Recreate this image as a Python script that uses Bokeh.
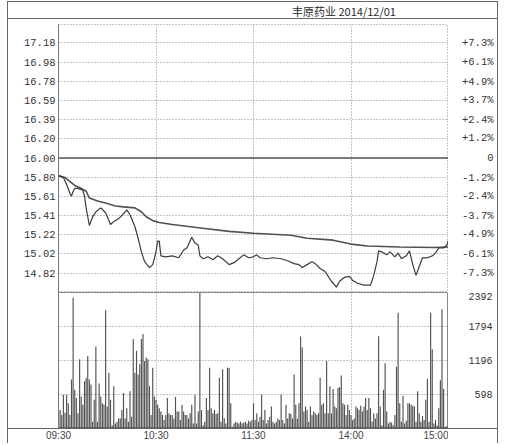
from bokeh.plotting import figure
from bokeh.layouts import column, row
from bokeh.models import Range1d, FixedTicker, Span, Label, Spacer
from bokeh.embed import file_html
from bokeh.resources import INLINE

title_text = "丰原药业 2014/12/01"
prev_close = 16.00
price_ticks = [17.18, 16.98, 16.78, 16.59, 16.39, 16.20, 16.00, 15.80, 15.61, 15.41, 15.22, 15.02, 14.82]
price_labels = ["17.18", "16.98", "16.78", "16.59", "16.39", "16.20", "16.00", "15.80", "15.61", "15.41", "15.22", "15.02", "14.82"]
pct_labels = ["+7.3%", "+6.1%", "+4.9%", "+3.7%", "+2.4%", "+1.2%", "0", "-1.2%", "-2.4%", "-3.7%", "-4.9%", "-6.1%", "-7.3%"]
vol_ticks = [598, 1196, 1794, 2392]
vol_labels = ["598", "1196", "1794", "2392"]
time_ticks = [0, 60, 120, 180, 240]
time_labels = ["09:30", "10:30", "11:30", "14:00", "15:00"]

price_minutes = [0, 3, 5, 7, 8, 9, 10, 12, 15, 16, 17, 19, 21, 23, 26, 29, 32, 34, 37, 40, 42, 44, 47, 49,
                 51, 53, 56, 58, 60, 61, 62, 63, 66, 70, 74, 77, 79, 82, 84, 86, 87, 89, 92, 95, 98, 101,
                 105, 108, 111, 114, 117, 120, 122, 124, 128, 132, 137, 141, 145, 148, 150, 153, 156, 158,
                 161, 164, 166, 168, 171, 173, 176, 179, 181, 184, 188, 192, 194, 196, 197, 199, 202, 204,
                 207, 209, 211, 214, 216, 218, 220, 222, 224, 227, 230, 232, 234, 237, 239, 240]
price_values = [15.82, 15.80, 15.73, 15.64, 15.61, 15.66, 15.69, 15.69, 15.67, 15.61, 15.49, 15.31, 15.40,
                15.45, 15.49, 15.44, 15.32, 15.35, 15.38, 15.43, 15.47, 15.42, 15.30, 15.18, 15.04, 14.94,
                14.88, 14.91, 15.04, 15.15, 15.15, 15.00, 14.99, 15.00, 14.98, 15.06, 15.08, 15.19, 15.13,
                15.11, 15.00, 14.97, 14.99, 14.96, 15.00, 14.97, 14.91, 14.93, 14.97, 15.01, 14.98, 14.99,
                15.01, 14.98, 14.97, 14.98, 14.97, 14.95, 14.92, 14.91, 14.88, 14.91, 14.94, 14.92, 14.87,
                14.84, 14.79, 14.74, 14.68, 14.74, 14.78, 14.79, 14.75, 14.72, 14.70, 14.70, 14.80, 14.94,
                15.05, 15.04, 15.01, 15.04, 14.99, 15.03, 14.97, 15.00, 15.05, 14.91, 14.80, 14.89, 14.98,
                14.98, 15.00, 15.03, 15.08, 15.08, 15.11, 15.16]

avg_minutes = [0, 4, 10, 14, 17, 19, 24, 29, 35, 40, 47, 51, 54, 58, 62, 70, 80, 90, 105, 120, 143, 153,
               169, 180, 190, 210, 231, 240]
avg_values = [15.82, 15.80, 15.72, 15.69, 15.66, 15.59, 15.56, 15.54, 15.51, 15.50, 15.49, 15.45, 15.40,
              15.36, 15.34, 15.32, 15.30, 15.28, 15.25, 15.23, 15.21, 15.18, 15.16, 15.12, 15.10, 15.09,
              15.085, 15.09]

volumes = [445, 327, 238, 594, 279, 594, 445, 238, 861, 2299,
           683, 535, 267, 1218, 564, 416, 832, 891, 1277, 861,
           772, 119, 505, 1443, 119, 790, 564, 445, 416, 2079,
           386, 980, 505, 59, 743, 89, 119, 178, 178, 327,
           624, 178, 356, 119, 653, 208, 1574, 980, 1366, 950,
           1129, 1574, 1663, 1188, 1247, 1218, 743, 238, 1069, 564,
           505, 416, 356, 297, 238, 148, 238, 535, 267, 238,
           238, 178, 552, 297, 297, 148, 416, 297, 238,
           238, 178, 267, 416, 89, 594, 89, 297, 2392, 327,
           59, 119, 535, 327, 1069, 356, 267, 327, 255, 267,
           891, 119, 1040, 178, 89, 1069, 1069, 445, 30, 89,
           119, 101, 89, 119, 89, 101, 119, 89, 137, 119,
           148, 445, 148, 267, 119, 208, 594, 148, 327, 89,
           148, 208, 386, 119, 89, 119, 178, 148, 594, 148,
           89, 416, 178, 267, 255, 178, 950, 416, 178, 445,
           1616, 1426, 297, 386, 327, 119, 386, 238, 297, 267, 238,
           267, 891, 416, 445, 267, 1188, 267, 743, 267, 695,
           386, 356, 713, 731, 933, 445, 416, 238, 416, 327,
           238, 148, 178, 386, 356, 327, 398, 297, 386, 535,
           327, 535, 356, 119, 267, 178, 267, 1622, 386, 59,
           683, 1146, 297, 89, 119, 101, 59, 238, 1087, 2037,
           445, 119, 576, 89, 137, 445, 445, 416, 398, 386,
           119, 653, 267, 119, 220, 148, 505, 873, 119, 2037,
           1396, 89, 148, 59, 356, 849, 2097, 695, 30,
           40, 1812]
vol_minutes = list(range(len(volumes)))

LABEL_FONT = "Liberation Mono"
LABEL_COLOR = "#333333"
GRID_COLOR = "#8a8a8a"
LINE_COLOR = "#3c3c3c"
FRAME_CSS = "1px solid #666666"

x_range = Range1d(time_ticks[0], time_ticks[-1])
price_range = Range1d(14.625, 17.365)
vol_range = Range1d(0, vol_ticks[-1])


def bare_axis(ax):
    ax.major_tick_line_color = None
    ax.minor_tick_line_color = None
    ax.major_tick_out = 0
    ax.major_tick_in = 0
    ax.minor_tick_out = 0
    ax.minor_tick_in = 0


def style_left_axis(ax, ticks, labels, standoff=3, size="10.5px"):
    ax.ticker = FixedTicker(ticks=ticks)
    ax.major_label_overrides = {t: l for t, l in zip(ticks, labels)}
    ax.major_label_text_font = LABEL_FONT
    ax.major_label_text_font_size = size
    ax.major_label_text_color = LABEL_COLOR
    ax.major_label_standoff = standoff
    bare_axis(ax)


def dotted_grids(p, yticks):
    p.ygrid.ticker = FixedTicker(ticks=yticks)
    p.xgrid.ticker = FixedTicker(ticks=time_ticks[1:-1])
    for g in (p.xgrid[0], p.ygrid[0]):
        g.grid_line_color = GRID_COLOR
        g.grid_line_dash = "1 2"


# ---- title bar ----
head = figure(width=489, height=17, x_range=Range1d(0, 1), y_range=Range1d(0, 1),
              toolbar_location=None, output_backend="svg", min_border=0,
              x_axis_location=None, y_axis_location=None, outline_line_color=None,
              styles={"border-bottom": FRAME_CSS})
head.xgrid.visible = False
head.ygrid.visible = False
head.add_layout(Label(x=0.532, y=0.5, text=title_text, text_font="Noto Sans CJK SC",
                      text_font_size="11px", text_color="#2a2a2a", text_baseline="middle",
                      text_align="left"))

# ---- price panel ----
pf = figure(width=440, height=273, x_range=x_range, y_range=price_range,
            toolbar_location=None, output_backend="svg",
            min_border_left=50, min_border_right=0, min_border_top=5, min_border_bottom=0,
            x_axis_location=None, outline_line_color=GRID_COLOR, outline_line_dash="1 2")
style_left_axis(pf.yaxis[0], price_ticks, price_labels)
pf.yaxis.axis_line_color = "#777777"
dotted_grids(pf, price_ticks)
pf.add_layout(Span(location=prev_close, dimension="width", line_color="#555555", line_width=1.5))
pf.line(avg_minutes, avg_values, line_color="#505050", line_width=1.6)
pf.line(price_minutes, price_values, line_color=LINE_COLOR, line_width=1.2)

ps = figure(width=49, height=273, x_range=Range1d(0, 1), y_range=price_range,
            toolbar_location=None, output_backend="svg",
            min_border_left=46, min_border_right=0, min_border_top=5, min_border_bottom=0,
            x_axis_location=None, outline_line_color=None)
style_left_axis(ps.yaxis[0], price_ticks, pct_labels, standoff=1)
ps.yaxis.axis_line_color = None
ps.xgrid.visible = False
ps.ygrid.visible = False

# ---- volume panel ----
vf = figure(width=440, height=136, x_range=x_range, y_range=vol_range,
            toolbar_location=None, output_backend="svg",
            min_border_left=50, min_border_right=0, min_border_top=0, min_border_bottom=0,
            x_axis_location=None, outline_line_color="#8a8a8a")
vf.yaxis.ticker = FixedTicker(ticks=[])
vf.yaxis.axis_line_color = "#777777"
bare_axis(vf.yaxis[0])
dotted_grids(vf, vol_ticks)
vf.vbar(x=vol_minutes, top=volumes, width=0.7, fill_color="#505050", line_color=None)

vs = figure(width=49, height=136, x_range=Range1d(0, 1), y_range=vol_range,
            toolbar_location=None, output_backend="svg",
            min_border_left=46, min_border_right=0, min_border_top=0, min_border_bottom=0,
            x_axis_location=None, outline_line_color=None)
style_left_axis(vs.yaxis[0], vol_ticks, vol_labels, standoff=2, size="10px")
vs.yaxis.axis_line_color = None
vs.xgrid.visible = False
vs.ygrid.visible = False

# ---- time axis ----
tf = figure(width=440, height=14, x_range=x_range, y_range=Range1d(0, 1),
            toolbar_location=None, output_backend="svg",
            min_border_left=50, min_border_right=0, min_border_top=0, min_border_bottom=0,
            y_axis_location=None, outline_line_color=None)
tf.xaxis.ticker = FixedTicker(ticks=time_ticks)
tf.xaxis.major_label_overrides = {t: l for t, l in zip(time_ticks, time_labels)}
tf.xaxis.major_label_text_font = "Liberation Sans"
tf.xaxis.major_label_text_font_size = "10px"
tf.xaxis.major_label_text_color = "#444444"
tf.xaxis.major_label_standoff = 0
tf.xaxis.axis_line_color = None
bare_axis(tf.xaxis[0])
tf.xgrid.visible = False
tf.ygrid.visible = False

box = column(head, row(pf, ps), row(vf, vs, styles={"border-bottom": FRAME_CSS}), tf,
             styles={"border-left": FRAME_CSS, "border-right": FRAME_CSS, "border-top": FRAME_CSS})
layout = row(Spacer(width=7), column(Spacer(height=1), box))

open("out.html", "w").write(file_html(layout, INLINE))
